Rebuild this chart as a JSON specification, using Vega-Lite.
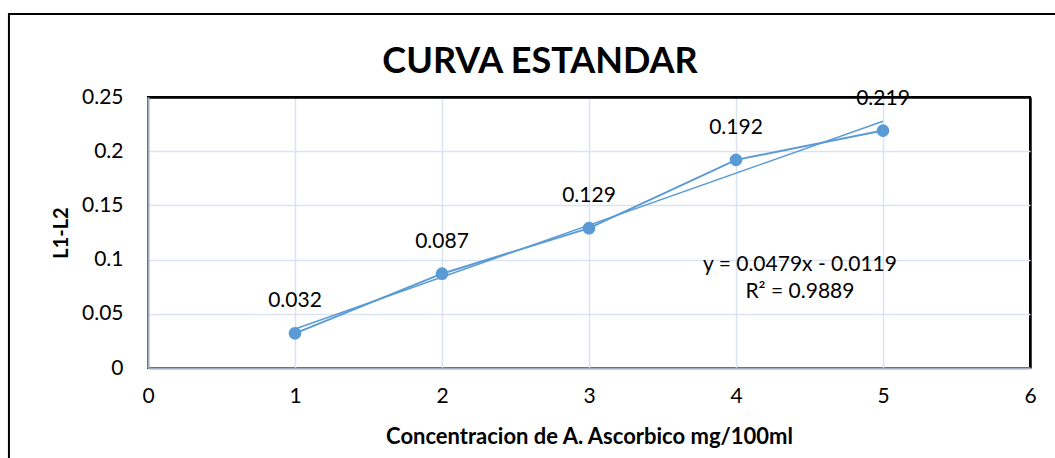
{
  "$schema": "https://vega.github.io/schema/vega-lite/v6.json",
  "width": 882,
  "height": 271,
  "autosize": {"type": "none"},
  "padding": {"left": 148, "top": 97, "right": 25, "bottom": 90},
  "background": "white",
  "title": {
    "text": "CURVA ESTANDAR",
    "font": "Lato",
    "fontSize": 36,
    "fontWeight": "bold",
    "color": "black",
    "anchor": "middle",
    "frame": "group",
    "dx": -49,
    "offset": -96,
    "baseline": "alphabetic"
  },
  "config": {
    "font": "Lato",
    "view": {"stroke": "black", "strokeWidth": 2},
    "axis": {
      "labelFont": "Lato",
      "labelFontSize": 21,
      "labelColor": "black",
      "titleFont": "Lato",
      "titleFontSize": 22,
      "titleFontWeight": "bold",
      "titleColor": "black",
      "gridWidth": 1.5,
      "domainColor": "#a3adbf",
      "domainWidth": 2,
      "ticks": false,
      "labelFlush": false
    }
  },
  "data": {
    "values": [
      {"conc": 1, "abs": 0.032},
      {"conc": 2, "abs": 0.087},
      {"conc": 3, "abs": 0.129},
      {"conc": 4, "abs": 0.192},
      {"conc": 5, "abs": 0.219}
    ]
  },
  "layer": [
    {
      "mark": {"type": "line", "color": "#5b9bd5", "strokeWidth": 2},
      "encoding": {
        "x": {
          "field": "conc",
          "type": "quantitative",
          "scale": {"domain": [0, 6], "nice": false, "zero": false},
          "axis": {
            "title": "Concentracion de A. Ascorbico mg/100ml",
            "values": [0, 1, 2, 3, 4, 5, 6],
            "format": "d",
            "labelPadding": 17,
            "titlePadding": 20,
            "gridColor": {"condition": {"test": "datum.value === 6", "value": "black"}, "value": "#dce3ee"},
            "gridWidth": {"condition": {"test": "datum.value === 6", "value": 2.5}, "value": 1.5}
          }
        },
        "y": {
          "field": "abs",
          "type": "quantitative",
          "scale": {"domain": [0, 0.25], "nice": false},
          "axis": {
            "title": "L1-L2",
            "values": [0, 0.05, 0.1, 0.15, 0.2, 0.25],
            "format": ".2~f",
            "labelPadding": 25,
            "titlePadding": 10,
            "titleFontSize": 20,
            "gridColor": {"condition": {"test": "datum.value === 0.25", "value": "black"}, "value": "#dce3ee"},
            "gridWidth": {"condition": {"test": "datum.value === 0.25", "value": 2.5}, "value": 1.5}
          }
        }
      }
    },
    {
      "transform": [{"regression": "abs", "on": "conc", "method": "linear", "extent": [1, 5]}],
      "mark": {"type": "line", "color": "#5b9bd5", "strokeWidth": 1.5},
      "encoding": {
        "x": {"field": "conc", "type": "quantitative"},
        "y": {"field": "abs", "type": "quantitative"}
      }
    },
    {
      "mark": {"type": "circle", "size": 160, "color": "#5b9bd5", "opacity": 1},
      "encoding": {
        "x": {"field": "conc", "type": "quantitative"},
        "y": {"field": "abs", "type": "quantitative"}
      }
    },
    {
      "mark": {"type": "text", "fontSize": 21, "font": "Lato", "fontWeight": "normal", "color": "black", "dy": -32, "baseline": "middle"},
      "encoding": {
        "x": {"field": "conc", "type": "quantitative"},
        "y": {"field": "abs", "type": "quantitative"},
        "text": {"field": "abs", "type": "quantitative", "format": ".3f"}
      }
    },
    {
      "data": {"values": [{"eq": "y = 0.0479x - 0.0119", "r2": "R² = 0.9889"}]},
      "mark": {"type": "text", "fontSize": 21, "font": "Lato", "fontWeight": "normal", "color": "black", "align": "center", "baseline": "middle", "lineHeight": 27},
      "encoding": {
        "x": {"datum": 4.435, "type": "quantitative"},
        "y": {"datum": 0.095, "type": "quantitative"},
        "text": {"value": ["y = 0.0479x - 0.0119", "R² = 0.9889"]}
      }
    },
    {
      "data": {"values": [{"frame": "chart area"}]},
      "mark": {"type": "rect", "fill": null, "stroke": "black", "strokeWidth": 2, "clip": false},
      "encoding": {
        "x": {"datum": -0.946, "type": "quantitative"},
        "x2": {"datum": 6.4},
        "y": {"datum": 0.3266, "type": "quantitative"},
        "y2": {"datum": -0.12}
      }
    }
  ]
}
